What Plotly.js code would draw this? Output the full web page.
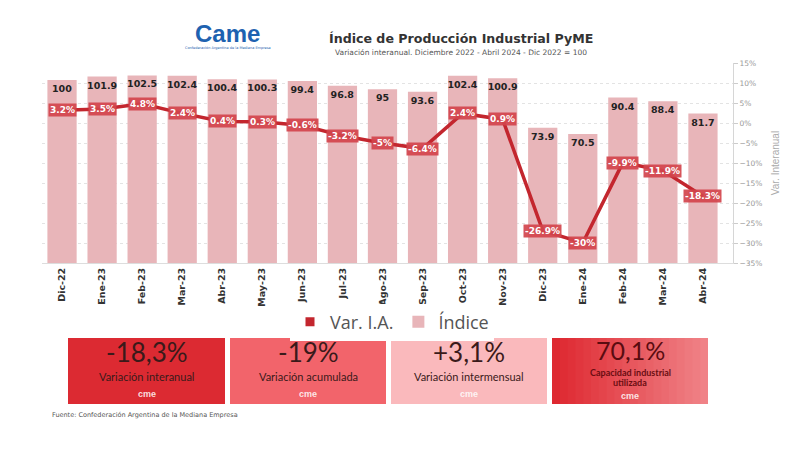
<!DOCTYPE html>
<html>
<head>
<meta charset="utf-8">
<script src="https://cdn.plot.ly/plotly-3.0.1.min.js"></script>
<style>html,body{margin:0;padding:0;background:#fff;}#chart{width:800px;height:450px;}</style>
</head>
<body>
<div id="chart"></div>
<script>
const months = ["Dic-22","Ene-23","Feb-23","Mar-23","Abr-23","May-23","Jun-23","Jul-23","Ago-23","Sep-23","Oct-23","Nov-23","Dic-23","Ene-24","Feb-24","Mar-24","Abr-24"];
const indice = [100,101.9,102.5,102.4,100.4,100.3,99.4,96.8,95,93.6,102.4,100.9,73.9,70.5,90.4,88.4,81.7];
const varIA = [3.2,3.5,4.8,2.4,0.4,0.3,-0.6,-3.2,-5,-6.4,2.4,0.9,-26.9,-30,-9.9,-11.9,-18.3];
const boxValues = ["-18,3%","-19%","+3,1%","70,1%"];
const boxLabels = [["Variación interanual"],["Variación acumulada"],["Variación intermensual"],["Capacidad industrial","utilizada"]];

const W = 800, H = 450, L = 42, T = 63, PW = 691, PH = 200;
const px = x => (x - L) / PW;
const py = y => (T + PH - y) / PH;

const traces = [
  {type:'bar', x: months, y: indice, name:'Índice', yaxis:'y',
   marker:{color:'#e8b5b9'}, text: indice.map(String), textposition:'inside',
   insidetextanchor:'end', textangle:0, constraintext:'none',
   insidetextfont:{family:'DejaVu Sans', size:9.5, color:'#222', weight:'bold'},
   showlegend:true, legendrank:2, hoverinfo:'skip'},
  {type:'scatter', mode:'lines', x: months, y: varIA, yaxis:'y2', name:'Var. I.A.',
   line:{color:'#c3262e', width:3.5}, showlegend:false, hoverinfo:'skip'},
  {type:'scatter', mode:'markers', x:[null], y:[null], yaxis:'y2', name:'Var. I.A.',
   marker:{symbol:'square', size:9, color:'#c3262e'}, showlegend:true, legendrank:1}
];

const annotations = [];
months.forEach((m,i)=>{
  annotations.push({x:m, y:varIA[i], xref:'x', yref:'y2', showarrow:false,
    xanchor:'center', yanchor:'middle',
    text: varIA[i] + '%', bgcolor:'rgba(210,68,76,0.92)', borderpad:1,
    font:{family:'DejaVu Sans', size:9, color:'#fff', weight:'bold'}});
});
function note(x, y, text, font, extra) {
  annotations.push(Object.assign({xref:'paper', yref:'paper', x:px(x), y:py(y), showarrow:false,
    xanchor:'center', yanchor:'middle', text:text, font:font}, extra || {}));
}
// titles
note(461, 38, '<b>Índice de Producción Industrial PyME</b>', {family:'DejaVu Sans', size:12.6, color:'#333'});
note(461, 53, 'Variación interanual. Diciembre 2022 - Abril 2024 - Dic 2022 = 100', {family:'DejaVu Sans', size:7.5, color:'#555'});
// logo
note(228, 33, '<b>Came</b>', {family:'Liberation Sans', size:24, color:'#1e62b0'});
note(228, 48, 'Confederación Argentina de la Mediana Empresa', {family:'DejaVu Sans', size:3.5, color:'#1e62b0'});
// source
note(50, 415, 'Fuente: Confederación Argentina de la Mediana Empresa', {family:'DejaVu Sans', size:6.5, color:'#555'}, {xanchor:'left'});

// boxes
const boxX = [[68,225],[230,386],[391,547],[552,708]];
const boxCol = ['#dc2a32','#f2646b','#fab9bc',null];
const shapes = [];
boxX.forEach((b,i)=>{
  if (boxCol[i]) {
    shapes.push({type:'rect', xref:'paper', yref:'paper', x0:px(b[0]), x1:px(b[1]), y0:py(404), y1:py(338),
      fillcolor:boxCol[i], line:{width:0}, layer:'above'});
  } else {
    const n = 20;
    const c0 = [222,40,48], c1 = [240,130,135];
    for (let k=0;k<n;k++){
      const f = k/(n-1);
      const c = c0.map((v,j)=>Math.round(v+(c1[j]-v)*f));
      const x0 = b[0] + (b[1]-b[0])*k/n;
      shapes.push({type:'rect', xref:'paper', yref:'paper', x0:px(x0), x1:px(b[1]), y0:py(404), y1:py(338),
        fillcolor:`rgb(${c[0]},${c[1]},${c[2]})`, line:{width:0}, layer:'above'});
    }
  }
  const cx = (b[0]+b[1])/2;
  if (i===3) {
    note(cx, 350, boxValues[i], {family:'Lato', size:25, color:'#5a0c10'});
    note(cx, 372, boxLabels[i][0], {family:'Lato', size:9, color:'#6a0d12', weight:'bold'});
    note(cx, 382, boxLabels[i][1], {family:'Lato', size:9, color:'#6a0d12', weight:'bold'});
    note(cx, 396, '<b>cme</b>', {family:'Liberation Sans', size:9, color:'rgba(255,255,255,0.85)'});
  } else {
    note(cx, 352, boxValues[i], {family:'Lato', size:26, color:'#3a1a1a'});
    note(cx, 377, boxLabels[i][0], {family:'Lato', size:11, color:'#3a1a1a'});
    note(cx, 394, '<b>cme</b>', {family:'Liberation Sans', size:9, color:'rgba(255,255,255,0.85)'});
  }
});

const layout = {
  width:W, height:H, paper_bgcolor:'#fff', plot_bgcolor:'#fff',
  margin:{l:L, r:W-L-PW, t:T, b:H-T-PH},
  bargap:0.27, showlegend:true,
  xaxis:{type:'category', range:[-0.5,16.75], tickangle:-90, showline:true, linecolor:'#ddd',
    ticks:'', tickfont:{family:'DejaVu Sans', size:9.5, color:'#333', weight:'bold'}, fixedrange:true},
  yaxis:{range:[0,109.3], visible:false, showgrid:false, fixedrange:true},
  yaxis2:{overlaying:'y', side:'right', range:[-35,15], dtick:5, ticksuffix:'%',
    showgrid:true, gridcolor:'#e3e3e3', griddash:'dot', zeroline:false,
    showline:true, linecolor:'#d6d6d6', ticks:'outside', ticklen:4, tickcolor:'#ccc',
    tickfont:{family:'DejaVu Sans', size:7.5, color:'#999'},
    title:{text:'Var. Interanual', standoff:10, font:{family:'Liberation Sans Narrow, Liberation Sans', size:10, color:'#aaa'}},
    fixedrange:true},
  legend:{orientation:'h', x:px(392), xanchor:'center', y:py(322), yanchor:'middle',
    font:{family:'Open Sans', size:18, color:'#555'}, itemwidth:30, traceorder:'normal'},
  annotations: annotations, shapes: shapes
};

Plotly.newPlot('chart', traces, layout, {displayModeBar:false, staticPlot:true});
</script>
</body>
</html>
